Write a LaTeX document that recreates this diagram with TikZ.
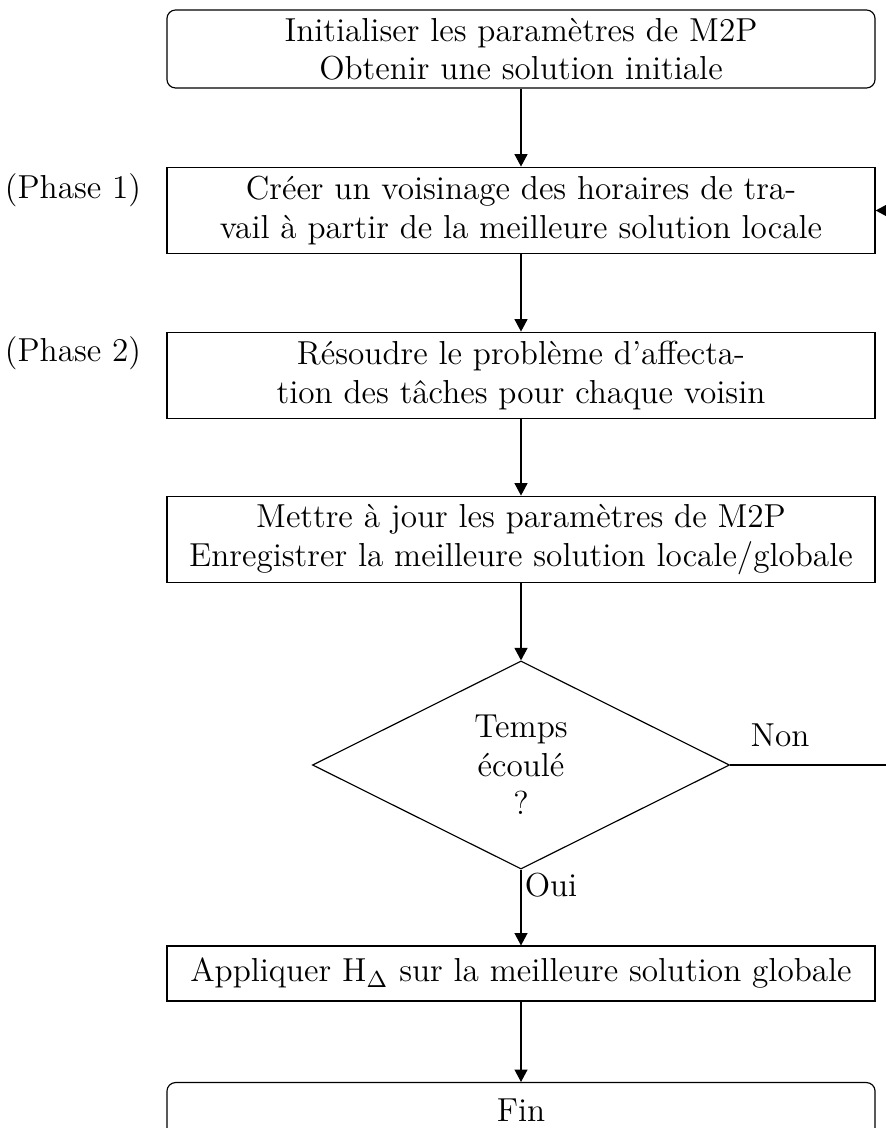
\documentclass[tikz,border=0pt]{standalone}
\usetikzlibrary{shapes.geometric,arrows.meta}
\begin{document}
\begin{tikzpicture}[x=0.346pt,y=-0.346pt,
  every node/.append style={font=\fontsize{11.5}{13.3}\selectfont},
  box/.style={draw, minimum width=245pt, minimum height=30pt, inner sep=0pt, align=center},
  rbox/.style={box, rounded corners=3pt},
  dec/.style={draw, shape=diamond, aspect=2, minimum width=144.3pt, minimum height=72pt, inner sep=0pt, align=center},
  lab/.style={inner sep=0pt, align=center},
  arr/.style={-{Triangle[length=4.3pt,width=4.5pt]}},
]
\useasboundingbox (0,0) rectangle (886,1128);
\clip (0,0) rectangle (886,1128);
\node[rbox, minimum height=27pt] (init) at (521,49) {Initialiser les paramètres de M2P\\Obtenir une solution initiale};
\node[box] (p1) at (521,210.5) {Créer un voisinage des horaires de tra-\\vail à partir de la meilleure solution locale};
\node[box] (p2) at (521,375.5) {Résoudre le problème d’affecta-\\tion des tâches pour chaque voisin};
\node[box] (upd) at (521,539.5) {Mettre à jour les paramètres de M2P\\Enregistrer la meilleure solution locale/globale};
\node[dec] (dec) at (521,765) {Temps\\écoulé\\?};
\node[box, minimum height=19pt] (app) at (521,973.5) {Appliquer H$_\Delta$ sur la meilleure solution globale};
\node[rbox, minimum height=19pt] (fin) at (521,1110) {Fin};
\node[lab] (ph1) at (73,190) {(Phase 1)};
\node[lab] (ph2) at (73,353) {(Phase 2)};
\node[lab] (non) at (780,735) {Non};
\node[lab] (oui) at (551,885) {Oui};
\coordinate (ret) at (920,765);
\draw[arr] (init) -- (p1);
\draw[arr] (p1) -- (p2);
\draw[arr] (p2) -- (upd);
\draw[arr] (upd) -- (dec);
\draw[arr] (dec.south) -- (app);
\draw[arr] (app) -- (fin);
\draw[arr] (dec.east) -- (ret) |- (p1.east);
\end{tikzpicture}
\end{document}
